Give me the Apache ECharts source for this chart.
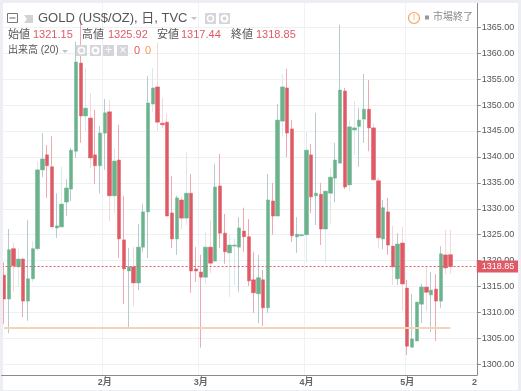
<!DOCTYPE html>
<html>
<head>
<meta charset="utf-8">
<style>html,body{margin:0;padding:0;background:#fff}#c{width:521px;height:391px}</style>
<script src="https://cdn.jsdelivr.net/npm/echarts@6/dist/echarts.min.js"></script>
</head>
<body>
<div id="c"></div>
<script>
const opens = [1317.2,1312.6,1322.3,1318.8,1320.3,1312.2,1316.5,1322.3,1337.5,1340.4,1338.1,1326.3,1326.5,1331.3,1333.8,1341.1,1358.1,1347.9,1347.5,1340.4,1338.3,1344.6,1348.7,1332.5,1339.4,1324.0,1318.0,1318.8,1315.7,1322.6,1329.4,1350.2,1353.5,1346.5,1346.7,1329.2,1324.2,1331.7,1328.2,1333.0,1318.4,1317.8,1316.8,1322.6,1319.9,1334.4,1325.3,1321.5,1322.8,1322.6,1325.7,1324.6,1316.3,1313.6,1316.3,1310.9,1331.5,1328.6,1346.9,1353.3,1345.4,1324.6,1324.8,1325.0,1340.4,1332.5,1332.8,1326.1,1333.0,1335.9,1338.8,1352.7,1334.6,1345.2,1345.9,1347.3,1349.2,1345.6,1335.4,1324.2,1329.4,1322.8,1316.5,1323.4,1314.7,1303.3,1304.5,1311.6,1314.9,1313.4,1314.5,1312.2,1321.1,1321.15];
const closes = [1312.6,1322.1,1319.0,1320.3,1312.2,1316.5,1322.3,1337.5,1339.6,1338.3,1326.5,1326.7,1330.9,1334.0,1341.3,1358.3,1347.9,1349.4,1339.8,1338.3,1344.6,1348.5,1332.5,1339.2,1324.2,1318.4,1318.8,1315.7,1322.6,1329.4,1350.4,1353.3,1346.7,1346.2,1328.6,1324.2,1332.1,1328.2,1333.0,1318.0,1318.0,1316.8,1322.6,1319.5,1334.2,1325.3,1321.7,1323.0,1323.0,1326.3,1324.6,1316.1,1313.8,1316.7,1310.9,1331.7,1328.6,1347.1,1353.5,1344.6,1324.8,1325.1,1325.0,1341.3,1332.3,1333.0,1326.1,1333.4,1336.1,1339.4,1352.9,1334.2,1345.8,1345.6,1347.1,1349.2,1345.6,1335.6,1324.4,1330.2,1323.0,1318.8,1323.2,1315.5,1303.5,1304.9,1312.0,1314.9,1313.9,1314.3,1312.2,1321.3,1318.6,1318.85];
const highs = [1319.7,1326.1,1323.4,1322.3,1320.5,1327.8,1323.8,1339.2,1344.6,1342.3,1344.0,1333.0,1338.1,1335.7,1341.7,1362.2,1366.4,1357.2,1352.3,1349.1,1346.0,1351.2,1351.0,1341.7,1346.2,1332.5,1322.4,1322.6,1327.1,1330.9,1355.6,1357.2,1362.0,1351.4,1348.3,1336.3,1332.5,1332.3,1341.0,1336.7,1322.6,1321.1,1325.5,1327.8,1338.6,1340.6,1329.0,1325.1,1324.2,1328.4,1330.2,1328.0,1321.7,1321.1,1318.2,1336.7,1335.0,1350.2,1356.0,1357.0,1347.1,1328.4,1325.0,1344.8,1342.5,1348.5,1335.0,1333.4,1337.9,1342.7,1365.5,1353.3,1347.1,1350.8,1349.4,1356.0,1354.8,1346.4,1336.0,1331.7,1332.1,1326.7,1325.3,1326.5,1316.3,1313.6,1312.0,1315.5,1318.8,1317.8,1317.4,1322.8,1325.9,1325.92];
const lows = [1307.8,1306.0,1313.9,1314.9,1309.1,1308.4,1315.9,1321.9,1336.1,1332.1,1326.5,1324.4,1326.5,1328.6,1331.5,1339.8,1342.7,1344.8,1337.9,1334.8,1333.0,1337.5,1327.6,1329.2,1320.5,1311.6,1307.2,1311.2,1314.3,1321.7,1320.5,1348.7,1345.0,1345.6,1328.6,1322.4,1321.1,1326.1,1326.9,1313.8,1315.9,1303.2,1315.5,1317.6,1319.9,1322.4,1319.4,1313.0,1315.3,1314.0,1321.7,1315.1,1309.9,1307.9,1307.4,1309.9,1325.0,1328.6,1343.9,1340.0,1323.6,1321.5,1324.8,1319.7,1329.2,1326.9,1323.0,1319.7,1327.1,1331.3,1338.8,1333.8,1333.4,1340.4,1338.1,1342.7,1341.1,1335.4,1322.4,1322.2,1321.1,1315.3,1315.3,1310.3,1301.8,1303.3,1304.5,1308.0,1310.3,1306.2,1304.5,1310.9,1317.4,1317.44];
const paleWickIndexes = [2,3,6,7,12,17,18,22,23,27,31,32,33,34,37,38,42,43,47,48,58,63,67,68,72,73,77,78,81,83,88,92,93];
const monthTicks = {21:'2月',41:'3月',63:'4月',84:'5月',98:'2'};
const yTickLabels = ['1300.00','1305.00','1310.00','1315.00','1320.00','1325.00','1330.00','1335.00','1340.00','1345.00','1350.00','1355.00','1360.00','1365.00'];
const lastPrice = 1318.85;
const supportLevel = 1307;
const quoteRow = [['始値','1321.15',8,33],['高値','1325.92',82,108],['安値','1317.44',157,181],['終値','1318.85',231,256]];
const categories = Array.from({length:99},(_,i)=>monthTicks[i]||'');

const GREEN='#6bb38c',RED='#e05a66',FONT='"Liberation Sans","Noto Sans CJK JP",sans-serif',BG='#eceef3';
const isTick=(i)=>monthTicks[i]!==undefined&&i<98;
const wickData=opens.map((o,i)=>{
  const up=closes[i]>=o,pale=paleWickIndexes.includes(i);
  const col=up?(pale?'#dbe8ec':'#b4ccd0'):(pale?'#f8d5d9':'#f0a9b0');
  return {value:[o,closes[i],lows[i],highs[i]],itemStyle:{color:col,color0:col,borderColor:col,borderColor0:col,borderColorDoji:col}};
});
const bodyData=opens.map((o,i)=>[o,closes[i],Math.min(o,closes[i]),Math.max(o,closes[i])]);

function txt(x,y,text,size,fill,extra){return Object.assign({type:'text',z:30,silent:true,style:{x,y,text,fill,font:size+'px '+FONT,textVerticalAlign:'middle',textAlign:'left'}},extra||{});}
function sq(x,y,s){return {type:'rect',z:30,silent:true,shape:{x,y,width:s,height:s},style:{fill:'#d4d6d9'}};}
function ring(cx,cy,r,col,lw){return {type:'circle',z:31,silent:true,shape:{cx,cy,r},style:{fill:'none',stroke:col,lineWidth:lw}};}
function tri(x,y){return {type:'polygon',z:30,silent:true,shape:{points:[[x,y],[x+6,y],[x+3,y+3]]},style:{fill:'#bfc2c6'}};}
function band(x,y,w,h,fill,z){return {type:'rect',z:z,silent:true,shape:{x,y,width:w,height:h},style:{fill}};}

const graphics=[
  band(0,375.5,521,16,'#fff',4),
  band(0,0,521,3,BG,6),band(0,0,3,391,BG,6),band(518,0,3,391,BG,6),band(0,390,521,1,BG,6),
  {type:'rect',z:30,silent:true,shape:{x:7.5,y:13.5,width:10,height:9},style:{fill:'#fff',stroke:'#777',lineWidth:1}},
  {type:'line',z:31,silent:true,shape:{x1:9.5,y1:18,x2:15.5,y2:18},style:{stroke:'#666',lineWidth:1}},
  {type:'polygon',z:30,silent:true,shape:{points:[[24,15],[33,15],[33,23],[24,23],[27,19]]},style:{fill:'#d0d2d5'}},
  txt(38,18.5,'GOLD (US$/OZ), 日, TVC',13,'#555'),
  tri(191,17),sq(205,13,11),ring(210.5,18.5,3,'#fff',1.5),sq(219,13,11),ring(224.5,18.5,3,'#fff',2),
  txt(8,50.5,'出来高 (20)',10,'#555'),tri(62,50),
  sq(76,45,11),ring(81.5,50.5,3,'#fff',1.5),sq(90,45,11),ring(95.5,50.5,3,'#fff',2),
  sq(103,45,11),txt(105,50.5,'+',12,'#fff'),sq(117,45,11),txt(119.5,50.5,'×',12,'#fff'),
  txt(134,51,'0',11,RED),txt(145,51,'0',11,'#f0a050'),
  {type:'circle',z:30,silent:true,shape:{cx:414,cy:18,r:5.5},style:{fill:'#fff',stroke:'#f3a35c',lineWidth:1.2}},
  txt(412.8,18,'!',9,'#f3a35c'),
  band(425,15.5,4,4,'#999',30),
  txt(433,17.5,'市場終了',10,'#8a8a8a')
];
quoteRow.forEach(r=>{graphics.push(txt(r[2],34.5,r[0],11,'#555'),txt(r[3],34.5,r[1],11,RED));});

const chart=echarts.init(document.getElementById('c'),null,{renderer:'canvas'});
const gridX={left:1.6,width:475.2,top:1.375,height:388.875};
chart.setOption({
  animation:false,
  backgroundColor:'#fff',
  grid:Object.assign({show:false},gridX),
  xAxis:[
    {type:'category',data:categories,z:0,axisLine:{show:false},axisTick:{show:false},axisLabel:{show:false},
     splitLine:{show:true,interval:(i)=>isTick(i),lineStyle:{color:'#eef2f6',width:1}}},
    {type:'category',data:categories,z:10,position:'bottom',offset:-15.25,
     axisLine:{show:true,onZero:false,lineStyle:{color:'#8a8a8a',width:1}},
     axisTick:{show:true,alignWithLabel:true,length:3,interval:(i)=>isTick(i),lineStyle:{color:'#8a8a8a'}},
     axisLabel:{show:true,interval:(i)=>monthTicks[i]!==undefined,color:'#666',fontFamily:FONT,fontSize:9,fontWeight:'bold',margin:3,hideOverlap:false},
     splitLine:{show:false}}
  ],
  yAxis:{type:'value',position:'right',min:1295,max:1370,interval:5,
    axisLine:{show:true,lineStyle:{color:'#8a8a8a',width:1}},
    axisTick:{show:true,length:4,lineStyle:{color:'#8a8a8a'}},
    axisLabel:{color:'#555',fontFamily:FONT,fontSize:9,margin:5,showMinLabel:false,showMaxLabel:false,
      formatter:(v)=>yTickLabels.includes(v.toFixed(2))?v.toFixed(2):''},
    splitLine:{show:true,lineStyle:{color:'#eef0f4',width:1}}},
  series:[
    {type:'candlestick',name:'wick',data:wickData,barWidth:1,silent:true,z:2,xAxisIndex:0,
     itemStyle:{borderWidth:1}},
    {type:'candlestick',name:'GOLD',data:bodyData,barWidth:4,silent:true,z:3,xAxisIndex:0,
     itemStyle:{color:GREEN,color0:RED,borderColor:'rgba(107,179,140,0.5)',borderColor0:'rgba(224,90,102,0.5)',borderColorDoji:GREEN,borderWidth:1},
     markLine:{silent:true,symbol:'none',animation:false,z:5,
       data:[
        [{coord:[0,supportLevel],lineStyle:{color:'#f7d3b6',width:2,type:'solid'},label:{show:false}},{coord:[93,supportLevel]}],
        {yAxis:lastPrice,lineStyle:{color:'#d9606c',width:1,type:[2,2]},
         label:{show:true,position:'end',distance:0,formatter:'1318.85',color:'#fff',backgroundColor:'#e05a66',fontFamily:FONT,fontSize:9,padding:[2,4,1,5],lineHeight:9}}
       ]}}
  ],
  graphic:{elements:graphics}
});
</script>
</body>
</html>
